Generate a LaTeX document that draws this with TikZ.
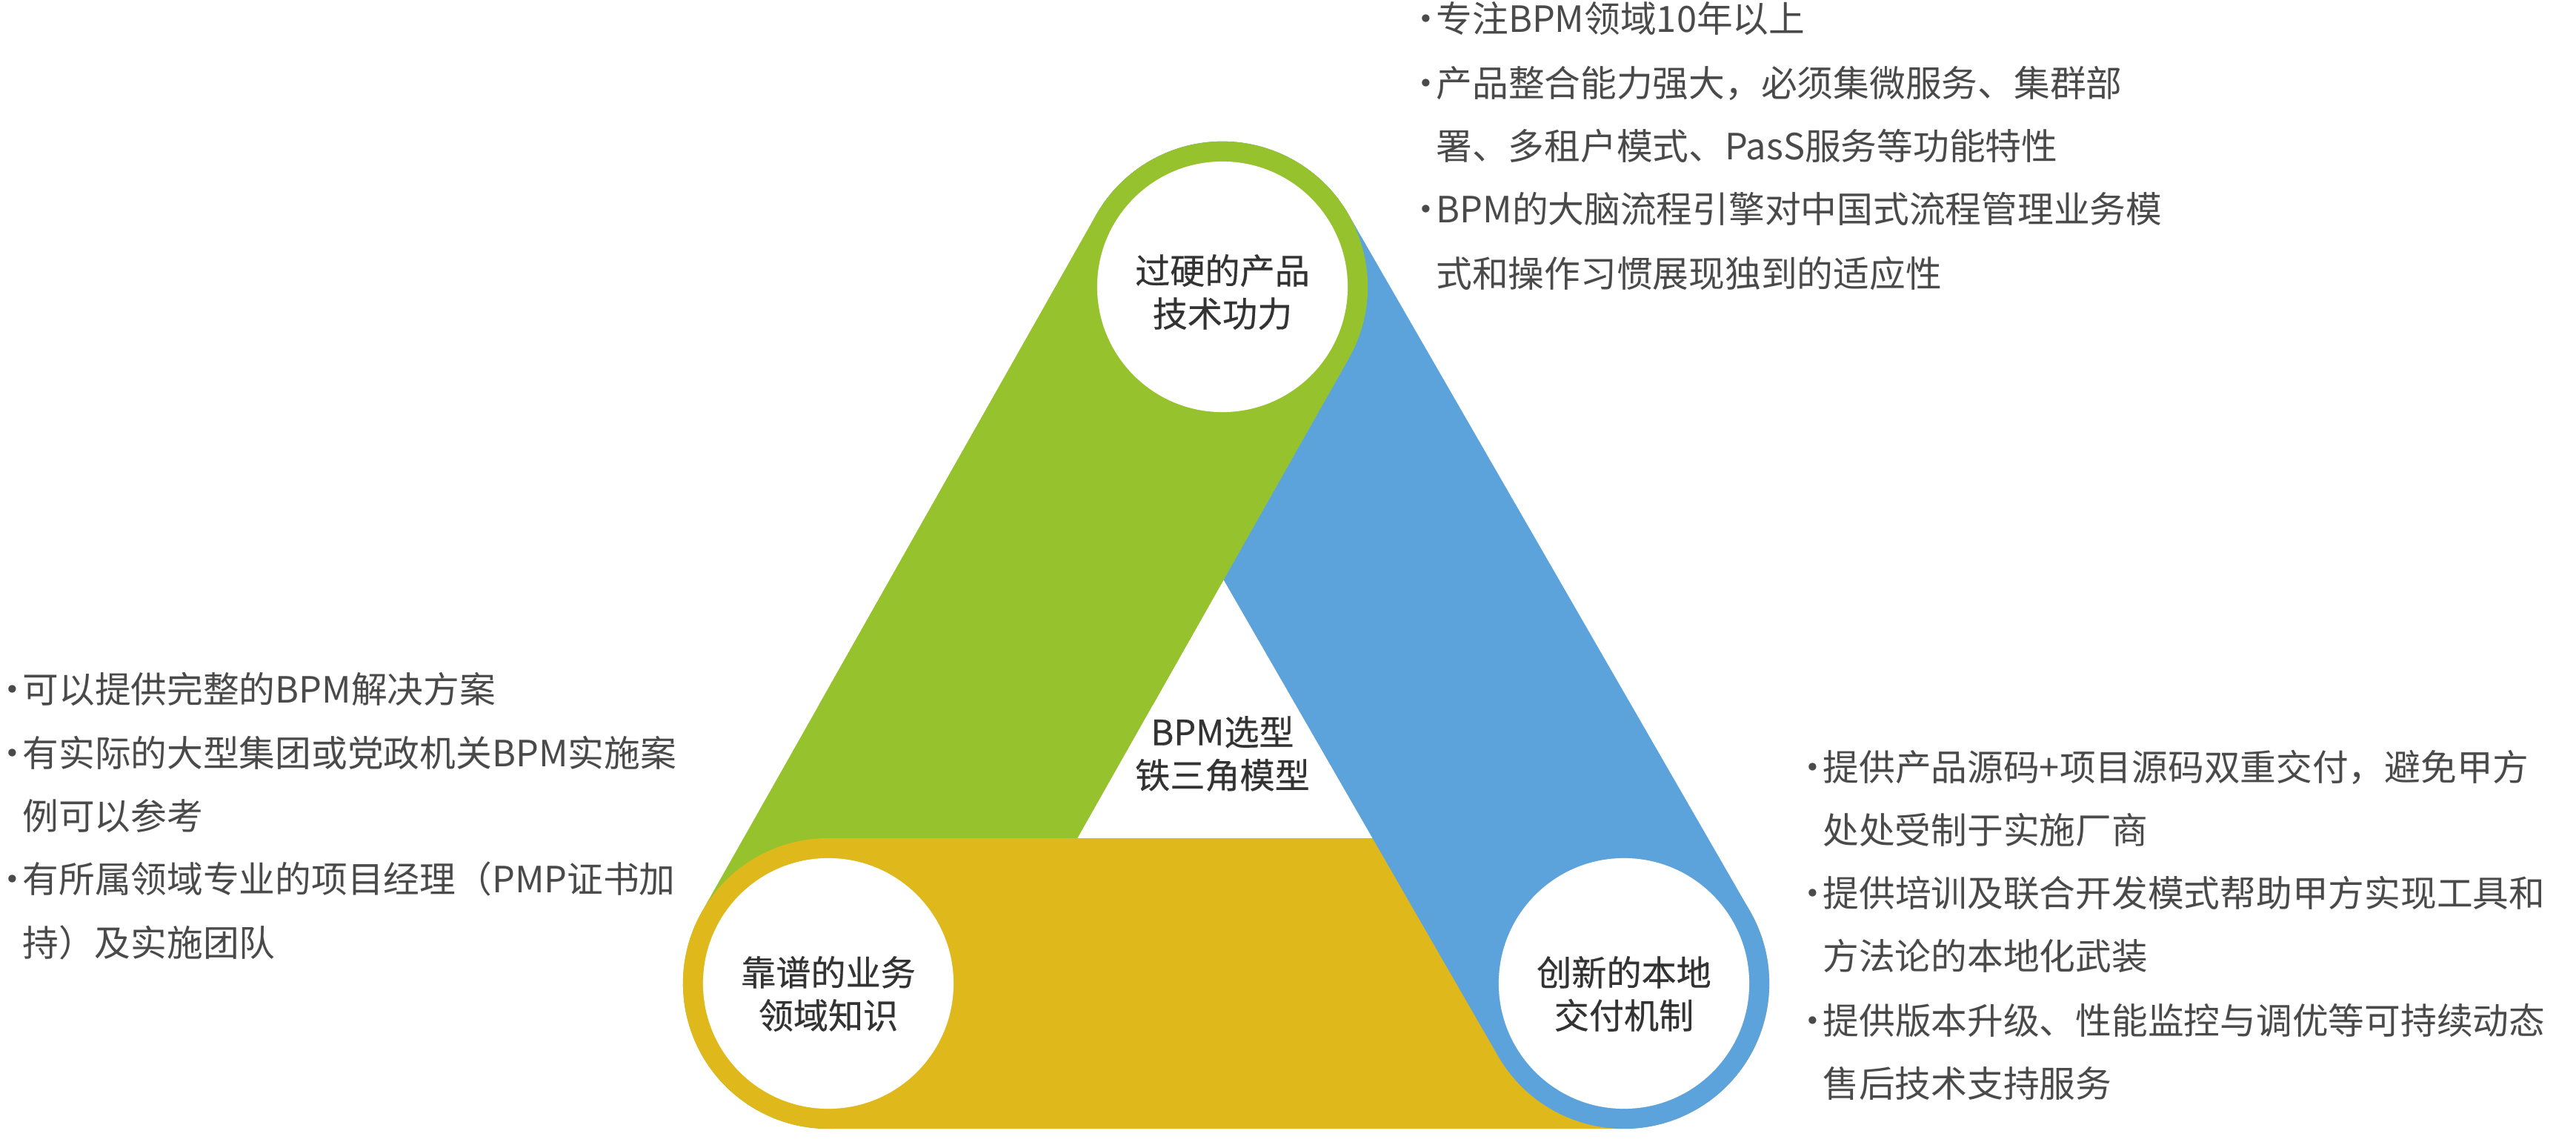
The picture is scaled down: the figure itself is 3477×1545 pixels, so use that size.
\documentclass[tikz,border=0pt]{standalone}
\usepackage{fontspec}
\setmainfont{Noto Sans CJK SC}
\newfontfamily\ringfont[FakeBold=0.4]{Noto Sans CJK SC}
\usepackage{xcolor}
\usepackage{tikz}
\definecolor{bandgreen}{HTML}{96C22E}
\definecolor{bandblue}{HTML}{5DA3DB}
\definecolor{bandyellow}{HTML}{DFB81C}
\definecolor{labelgray}{HTML}{333333}
\definecolor{notegray}{HTML}{4A4A4A}
\newcommand{\bul}{\makebox[0.57em][c]{·}}
\newcommand{\ind}{\hspace*{0.57em}}

\begin{document}
\begin{tikzpicture}[x=0.01cm, y=-0.01cm,
    band/.style={line width=3.92cm, line cap=round},
    hole/.style={circle, fill=white, minimum size=3.38cm, inner sep=0pt},
    ringtext/.style={text=labelgray, align=center, inner sep=0pt, font=\ringfont\fontsize{13.4}{16.5}\selectfont},
    bullettext/.style={text=notegray, anchor=base west, inner sep=0pt, font=\fontsize{13.86}{16}\selectfont}]
            \useasboundingbox (0,0) rectangle (3477,1545);
            \coordinate (ctop) at (1650,387);
            \coordinate (cleft) at (1118,1327);
            \coordinate (cright) at (2192,1327);
            % bands: green under yellow, yellow under blue, blue under green
            \draw[band, bandgreen] (ctop) -- (cleft);
            \draw[band, bandyellow] (cleft) -- (cright);
            \draw[band, bandblue] (cright) -- (ctop);
            \begin{scope}
                \clip (0,0) rectangle (3477,950);
                \draw[band, bandgreen] (ctop) -- (cleft);
            \end{scope}
            \node[hole] (prod) at (ctop) {};
            \node[hole] (know) at (cleft) {};
            \node[hole] (deliv) at (cright) {};
            \node[ringtext] (prodtxt) at ([yshift=-0.07cm]prod.center) {过硬的产品\\技术功力};
            \node[ringtext] (knowtxt) at ([yshift=-0.14cm]know.center) {靠谱的业务\\领域知识};
            \node[ringtext] (delivtxt) at ([yshift=-0.14cm]deliv.center) {创新的本地\\交付机制};
            \node[ringtext] (model) at (1650,1017) {BPM选型\\铁三角模型};
            % notes, top right
            \node[bullettext] (prodn1) at (1910,43) {\bul 专注BPM领域10年以上};
            \node[bullettext] (prodn2) at (1910,130) {\bul 产品整合能力强大，必须集微服务、集群部};
            \node[bullettext] (prodn3) at (1910,215) {\ind 署、多租户模式、PasS服务等功能特性};
            \node[bullettext] (prodn4) at (1910,300) {\bul BPM的大脑流程引擎对中国式流程管理业务模};
            \node[bullettext] (prodn5) at (1910,387) {\ind 式和操作习惯展现独到的适应性};
            % notes, left
            \node[bullettext] (known1) at (2,948) {\bul 可以提供完整的BPM解决方案};
            \node[bullettext] (known2) at (2,1034) {\bul 有实际的大型集团或党政机关BPM实施案};
            \node[bullettext] (known3) at (2,1119) {\ind 例可以参考};
            \node[bullettext] (known4) at (2,1204) {\bul 有所属领域专业的项目经理（PMP证书加};
            \node[bullettext] (known5) at (2,1290) {\ind 持）及实施团队};
            % notes, bottom right
            \node[bullettext] (delivn1) at (2432,1053) {\bul 提供产品源码+项目源码双重交付，避免甲方};
            \node[bullettext] (delivn2) at (2432,1138) {\ind 处处受制于实施厂商};
            \node[bullettext] (delivn3) at (2432,1223) {\bul 提供培训及联合开发模式帮助甲方实现工具和};
            \node[bullettext] (delivn4) at (2432,1308) {\ind 方法论的本地化武装};
            \node[bullettext] (delivn5) at (2432,1395) {\bul 提供版本升级、性能监控与调优等可持续动态};
            \node[bullettext] (delivn6) at (2432,1480) {\ind 售后技术支持服务};
        \end{tikzpicture}
\end{document}
